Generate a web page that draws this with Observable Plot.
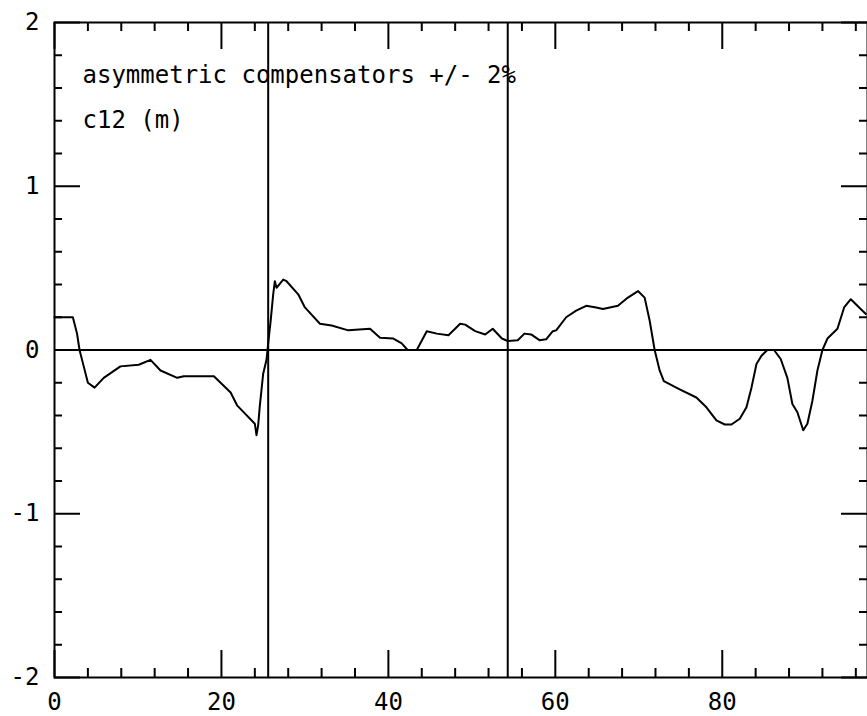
<!DOCTYPE html>
<html>
<head>
<meta charset="utf-8">
<script src="https://cdn.jsdelivr.net/npm/d3@7"></script>
<script src="https://cdn.jsdelivr.net/npm/@observablehq/plot@0.6"></script>
<style>
  html, body { margin: 0; padding: 0; background: #fff; overflow: hidden; }
  #chart svg { display: block; }
</style>
</head>
<body>
<div id="chart"></div>
<script>
// ---- data ----
const sPos = [0, 2.2, 2.7, 3.0, 3.5, 4.0, 4.8, 5.9, 7.9, 10.1, 11.5, 12.7, 14.7, 15.5, 19.1, 21.1, 21.9, 24.0, 24.2, 24.4, 24.6, 25.0, 25.4, 25.6, 25.9, 26.2, 26.4, 26.6, 27.4, 27.8, 29.2, 30.0, 31.8, 33.2, 35.2, 37.8, 39.0, 40.6, 41.6, 42.3, 43.4, 44.6, 45.8, 47.2, 48.6, 49.2, 50.4, 51.6, 52.5, 53.6, 54.3, 55.5, 56.3, 57.1, 58.1, 58.9, 59.7, 60.1, 61.3, 62.5, 63.7, 64.9, 65.7, 67.5, 68.7, 69.9, 70.7, 71.3, 71.9, 72.5, 73.0, 74.9, 76.9, 78.1, 79.3, 80.3, 81.1, 82.1, 82.9, 83.5, 84.1, 84.7, 85.4, 86.2, 87.0, 87.8, 88.4, 89.0, 89.7, 90.2, 90.8, 91.4, 92.0, 92.6, 93.8, 94.6, 95.4, 96.4, 97.2];
const c12 = [0.20, 0.20, 0.10, 0.0, -0.10, -0.20, -0.23, -0.17, -0.10, -0.09, -0.06, -0.125, -0.17, -0.16, -0.16, -0.26, -0.34, -0.45, -0.52, -0.46, -0.34, -0.145, -0.06, 0.04, 0.18, 0.34, 0.42, 0.38, 0.43, 0.42, 0.34, 0.26, 0.16, 0.15, 0.12, 0.13, 0.075, 0.07, 0.04, 0.0, 0.0, 0.115, 0.10, 0.09, 0.16, 0.155, 0.115, 0.095, 0.13, 0.07, 0.055, 0.06, 0.10, 0.095, 0.06, 0.065, 0.115, 0.12, 0.20, 0.24, 0.27, 0.26, 0.25, 0.27, 0.32, 0.36, 0.32, 0.18, 0.0, -0.125, -0.19, -0.24, -0.29, -0.35, -0.43, -0.455, -0.455, -0.42, -0.35, -0.23, -0.085, -0.035, 0.0, 0.0, -0.055, -0.17, -0.33, -0.38, -0.49, -0.45, -0.31, -0.125, 0.0, 0.07, 0.13, 0.26, 0.31, 0.26, 0.22];
const markerLines = [25.6, 54.3];
const xMajorTicks = [0, 20, 40, 60, 80];
const xMinorTicks = [4, 8, 12, 16, 24, 28, 32, 36, 44, 48, 52, 56, 64, 68, 72, 76, 84, 88, 92, 96];
const yMajorTicks = [-2, -1, 0, 1, 2];
const yMinorTicks = [-1.8, -1.6, -1.4, -1.2, -0.8, -0.6, -0.4, -0.2, 0.2, 0.4, 0.6, 0.8, 1.2, 1.4, 1.6, 1.8];
const titleLines = ["asymmetric compensators +/- 2%", "c12 (m)"];

const data = sPos.map((s, i) => ({s, v: c12[i]}));

// ---- layout ----
const W = 867, H = 716;
const mL = 54, mR = 0, mT = 22, mB = 39;
const pw = W - mL - mR, ph = H - mT - mB;
const font = "'DejaVu Sans Mono', 'Liberation Mono', monospace";

const chart = Plot.plot({
  width: W,
  height: H,
  marginLeft: mL, marginRight: mR, marginTop: mT, marginBottom: mB,
  style: {background: "#fff", fontFamily: font, color: "#000"},
  x: {domain: [0, 97.4]},
  y: {domain: [-2, 2]},
  marks: [
    Plot.frame({stroke: "#000", strokeWidth: 2}),
    // inward ticks: bottom & top
    Plot.ruleX(xMinorTicks, {insetTop: ph - 9, stroke: "#000", strokeWidth: 2}),
    Plot.ruleX(xMajorTicks, {insetTop: ph - 27, stroke: "#000", strokeWidth: 2}),
    Plot.ruleX(xMinorTicks, {insetBottom: ph - 9, stroke: "#000", strokeWidth: 2}),
    Plot.ruleX(xMajorTicks, {insetBottom: ph - 27, stroke: "#000", strokeWidth: 2}),
    // inward ticks: left & right
    Plot.ruleY(yMinorTicks, {insetRight: pw - 8, stroke: "#000", strokeWidth: 2}),
    Plot.ruleY(yMajorTicks, {insetRight: pw - 26, stroke: "#000", strokeWidth: 2}),
    Plot.ruleY(yMinorTicks, {insetLeft: pw - 8, stroke: "#000", strokeWidth: 2}),
    Plot.ruleY(yMajorTicks, {insetLeft: pw - 26, stroke: "#000", strokeWidth: 2}),
    // reference lines
    Plot.ruleY([0], {stroke: "#000", strokeWidth: 2}),
    Plot.ruleX(markerLines, {stroke: "#000", strokeWidth: 2}),
    // curve
    Plot.line(data, {x: "s", y: "v", stroke: "#000", strokeWidth: 2, curve: "linear"}),
    // axis labels
    Plot.axisX({ticks: xMajorTicks, tickSize: 0, tickPadding: 15, fontSize: 24, tickFormat: d => String(d), label: null, fill: "#000"}),
    Plot.axisY({ticks: yMajorTicks, tickSize: 0, tickPadding: 15, fontSize: 24, tickFormat: d => String(d), label: null, fill: "#000"}),
    // annotation text
    Plot.text([titleLines[0]], {frameAnchor: "top-left", dx: 28, dy: 60, lineAnchor: "bottom", textAnchor: "start", fontSize: 24, fill: "#000"}),
    Plot.text([titleLines[1]], {frameAnchor: "top-left", dx: 28, dy: 105, lineAnchor: "bottom", textAnchor: "start", fontSize: 24, fill: "#000"})
  ]
});
document.getElementById("chart").appendChild(chart);
</script>
</body>
</html>
